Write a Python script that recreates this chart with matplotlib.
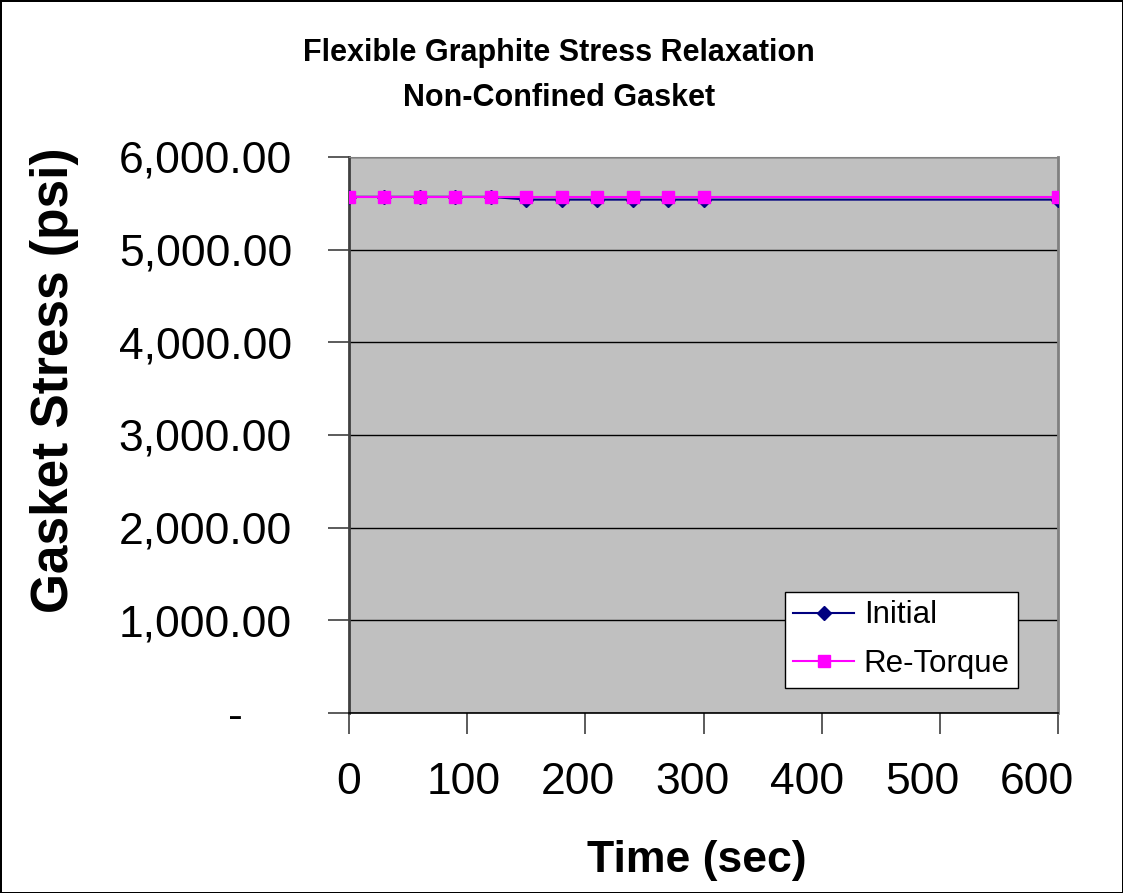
import matplotlib
matplotlib.use("Agg")
import matplotlib.pyplot as plt
from matplotlib.ticker import FuncFormatter
from matplotlib.transforms import ScaledTranslation

# data
time_sec = [0, 30, 60, 90, 120, 150, 180, 210, 240, 270, 300, 600]
initial = [5570, 5570, 5570, 5570, 5570, 5540, 5540, 5540, 5540, 5540, 5540, 5540]
re_torque = [5570, 5570, 5570, 5570, 5570, 5570, 5570, 5570, 5570, 5570, 5570, 5570]
y_ticks = [0, 1000, 2000, 3000, 4000, 5000, 6000]
x_ticks = [0, 100, 200, 300, 400, 500, 600]

plt.rcParams['font.family'] = ['Liberation Sans', 'DejaVu Sans']


# accounting style labels, zero shown as a dash
def stress_fmt(v, pos):
    if v == 0:
        return "-    "
    return "{:,.2f}".format(v)


def main():
    fig = plt.figure(figsize=(11.23, 8.93), dpi=100, facecolor='white',
                     edgecolor='black', linewidth=2)
    ax = fig.add_axes([0.3108, 0.2016, 0.6314, 0.6226])
    ax.set_facecolor('#C0C0C0')

    ax.plot(time_sec, initial, color='#000080', marker='D', markersize=7,
            linewidth=1.5, label='Initial', zorder=3)
    ax.plot(time_sec, re_torque, color='#FF00FF', marker='s', markersize=9,
            linewidth=1.5, label='Re-Torque', zorder=4)

    ax.set_xlim(0, 600)
    ax.set_ylim(0, 6000)
    ax.set_xticks(x_ticks)
    ax.set_yticks(y_ticks)
    ax.yaxis.set_major_formatter(FuncFormatter(stress_fmt))
    ax.grid(axis='y', color='black', linewidth=1, zorder=1)
    ax.set_axisbelow(True)

    ax.tick_params(axis='both', labelsize=32, length=15, width=1.2,
                   color='#404040', direction='out')
    ax.tick_params(axis='x', pad=20)
    ax.tick_params(axis='y', pad=26)

    # excel squeezes the x labels a little to the left as they go right
    for val, lab in zip(x_ticks, ax.get_xticklabels()):
        shift = ScaledTranslation(-0.036 * val / 100.0, 0, fig.dpi_scale_trans)
        lab.set_transform(lab.get_transform() + shift)

    ax.spines['left'].set_color('#404040')
    ax.spines['left'].set_linewidth(2)
    ax.spines['bottom'].set_color('black')
    ax.spines['bottom'].set_linewidth(1.2)
    ax.spines['top'].set_color('#808080')
    ax.spines['right'].set_color('#808080')
    ax.spines['right'].set_linewidth(2)

    ax.set_xlabel('Time (sec)', fontsize=32, fontweight='bold',
                  va='center', ha='center')
    ax.xaxis.set_label_coords(0.491, -0.265)
    ax.set_ylabel('Gasket Stress (psi)', fontsize=37, fontweight='bold',
                  va='center', ha='center')
    ax.yaxis.set_label_coords(-0.416, 0.599)

    fig.text(0.4978, 0.9155, 'Flexible Graphite Stress Relaxation\nNon-Confined Gasket',
             ha='center', va='center', fontsize=22, fontweight='bold',
             linespacing=1.62)

    leg = ax.legend(loc='lower right', bbox_to_anchor=(0.944, 0.045),
                    fontsize=22.5, fancybox=False, framealpha=1,
                    edgecolor='black', borderpad=0.28, handlelength=1.95,
                    handletextpad=0.3, labelspacing=0.6, borderaxespad=0)
    leg.get_frame().set_linewidth(1)

    fig.savefig('out.png', dpi=100)


if __name__ == "__main__":
    main()
